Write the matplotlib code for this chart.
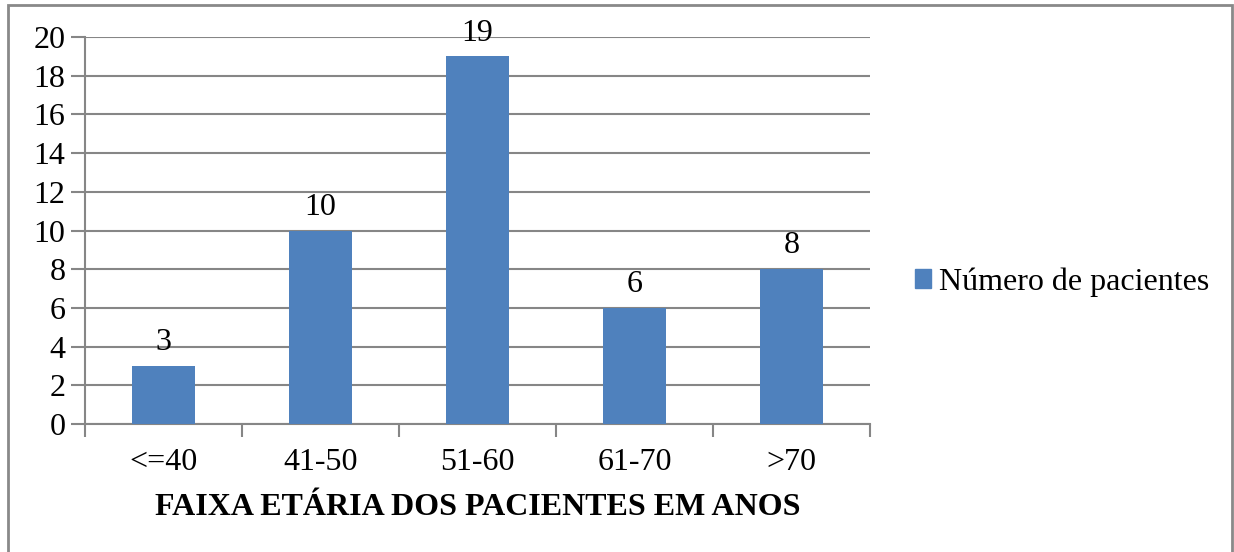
import matplotlib.pyplot as plt
from matplotlib.patches import Rectangle, Patch

faixas = ['<=40', '41-50', '51-60', '61-70', '>70']
pacientes = [3, 10, 19, 6, 8]

plt.rcParams['font.family'] = ['Liberation Serif', 'DejaVu Serif']

fig = plt.figure(figsize=(12.34, 5.52), dpi=100)
ax = fig.add_axes([85/1234, 1 - 424/552, 785/1234, 387/552])

cor = '#4F81BD'
cinza = '#868686'
fs = 23
x = range(len(faixas))
ax.bar(x, pacientes, width=0.4, color=cor, zorder=3, label='Número de pacientes')
for i, v in zip(x, pacientes):
    ax.text(i, v + 0.45, str(v), ha='center', va='bottom', fontsize=fs)

ax.set_xlim(-0.5, len(faixas) - 0.5)
ax.set_ylim(0, 20)
ax.set_yticks(range(0, 21, 2))
ax.set_xticks(list(x))
ax.set_xticklabels(faixas)
ax.set_xticks([i - 0.5 for i in range(len(faixas) + 1)], minor=True)
ax.tick_params(axis='x', which='major', length=0, labelsize=fs, pad=17)
ax.tick_params(axis='x', which='minor', length=9, width=1.5, color=cinza)
ax.tick_params(axis='y', length=10, width=1.5, color=cinza, labelsize=fs, pad=4)
ax.yaxis.grid(True, color=cinza, linewidth=1.5, zorder=0)
for s in ['top', 'right']:
    ax.spines[s].set_visible(False)
for s in ['left', 'bottom']:
    ax.spines[s].set_color(cinza)
    ax.spines[s].set_linewidth(1.5)

ax.set_xlabel('FAIXA ETÁRIA DOS PACIENTES EM ANOS', fontsize=fs, fontweight='bold', labelpad=12)

fig.legend(handles=[Patch(color=cor, label='Número de pacientes')], loc='center left',
           bbox_to_anchor=(886/1234, 1 - 282/552), frameon=False, fontsize=fs,
           handlelength=0.5, handleheight=0.5, handletextpad=0.25)

fig.patches.append(Rectangle((8/1234, -0.05), 1224/1234, 1.05 - 5/552, transform=fig.transFigure,
                             fill=False, edgecolor='#898989', linewidth=2))

plt.savefig('out.png', dpi=100)
